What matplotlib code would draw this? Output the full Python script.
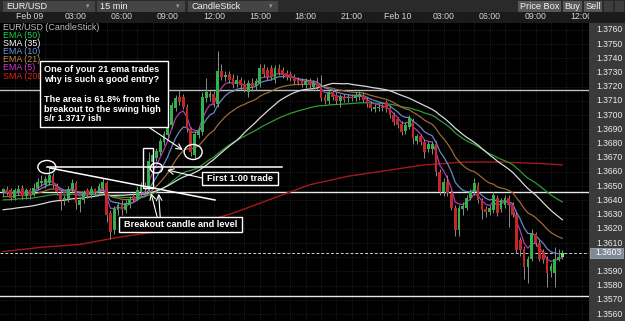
import matplotlib
matplotlib.use("Agg")
import matplotlib.pyplot as plt
import numpy as np
import pandas as pd
from matplotlib.patches import Rectangle, Ellipse
from matplotlib.transforms import blended_transform_factory

plt.rcParams['font.family'] = ['Liberation Sans', 'DejaVu Sans']

# ---------------- data ----------------
first_index = -7  # candle index of first candle (index 0 = Feb 09 00:00, 15-min candles)

opens = [1.3646,1.3648,1.3647,1.3642,1.3646,1.3649,1.3643,1.3647,1.3644,1.3649,
         1.3652,1.3651,1.3652,1.3657,1.3650,1.3645,1.3640,1.3641,1.3648,1.3652,
         1.3637,1.3640,1.3647,1.3644,1.3648,1.3646,1.3649,1.3652,1.3631,1.3619,
         1.3633,1.3637,1.3633,1.3637,1.3643,1.3641,1.3646,1.3650,1.3648,1.3667,
         1.3670,1.3674,1.3681,1.3686,1.3693,1.3705,1.3713,1.3713,1.3706,1.3690,
         1.3672,1.3686,1.3688,1.3712,1.3713,1.3715,1.3708,1.3731,1.3727,1.3729,
         1.3726,1.3722,1.3725,1.3722,1.3716,1.3723,1.3720,1.3722,1.3733,1.3732,
         1.3733,1.3725,1.3733,1.3732,1.3730,1.3729,1.3727,1.3725,1.3724,1.3721,
         1.3724,1.3720,1.3723,1.3720,1.3713,1.3710,1.3716,1.3714,1.3710,1.3713,
         1.3712,1.3713,1.3712,1.3713,1.3714,1.3711,1.3708,1.3704,1.3705,1.3706,
         1.3709,1.3705,1.3700,1.3697,1.3694,1.3689,1.3692,1.3695,1.3682,1.3685,
         1.3681,1.3676,1.3676,1.3680,1.3660,1.3646,1.3653,1.3645,1.3635,1.3619,
         1.3634,1.3635,1.3642,1.3646,1.3651,1.3640,1.3634,1.3632,1.3633,1.3642,
         1.3634,1.3637,1.3642,1.3637,1.3630,1.3612,1.3606,1.3593,1.3599,1.3616,
         1.3610,1.3604,1.3599,1.3590,1.3589,1.3598,1.3600]

highs = [1.3649,1.3650,1.3649,1.3649,1.3651,1.3651,1.3649,1.3649,1.3652,1.3656,
         1.3658,1.3657,1.3663,1.3659,1.3652,1.3647,1.3644,1.3650,1.3655,1.3654,
         1.3642,1.3647,1.3649,1.3650,1.3649,1.3652,1.3656,1.3654,1.3633,1.3636,
         1.3639,1.3640,1.3640,1.3643,1.3645,1.3650,1.3653,1.3653,1.3674,1.3675,
         1.3677,1.3684,1.3689,1.3697,1.3709,1.3714,1.3718,1.3715,1.3708,1.3692,
         1.3689,1.3692,1.3716,1.3726,1.3718,1.3717,1.3745,1.3736,1.3731,1.3731,
         1.3729,1.3728,1.3727,1.3725,1.3725,1.3726,1.3726,1.3736,1.3736,1.3734,
         1.3735,1.3735,1.3736,1.3734,1.3732,1.3731,1.3729,1.3727,1.3726,1.3726,
         1.3726,1.3725,1.3727,1.3728,1.3715,1.3718,1.3718,1.3716,1.3715,1.3715,
         1.3715,1.3715,1.3716,1.3717,1.3716,1.3713,1.3710,1.3708,1.3708,1.3708,
         1.3711,1.3707,1.3702,1.3699,1.3696,1.3695,1.3700,1.3698,1.3687,1.3687,
         1.3683,1.3682,1.3682,1.3682,1.3662,1.3656,1.3658,1.3647,1.3637,1.3637,
         1.3639,1.3644,1.3648,1.3656,1.3653,1.3642,1.3636,1.3637,1.3646,1.3644,
         1.3642,1.3644,1.3644,1.3639,1.3632,1.3614,1.3608,1.3601,1.3620,1.3618,
         1.3612,1.3606,1.3601,1.3596,1.3607,1.3606,1.3605]

lows = [1.3643,1.3644,1.3640,1.3640,1.3644,1.3641,1.3641,1.3641,1.3643,1.3647,
        1.3650,1.3649,1.3651,1.3649,1.3644,1.3633,1.3637,1.3639,1.3646,1.3634,
        1.3632,1.3638,1.3642,1.3642,1.3643,1.3644,1.3647,1.3625,1.3613,1.3616,
        1.3630,1.3630,1.3631,1.3635,1.3639,1.3640,1.3643,1.3646,1.3646,1.3663,
        1.3668,1.3672,1.3679,1.3684,1.3691,1.3703,1.3707,1.3704,1.3688,1.3671,
        1.3670,1.3684,1.3686,1.3709,1.3710,1.3706,1.3706,1.3725,1.3724,1.3723,
        1.3719,1.3720,1.3718,1.3716,1.3713,1.3717,1.3718,1.3720,1.3727,1.3725,
        1.3725,1.3723,1.3728,1.3726,1.3725,1.3724,1.3722,1.3721,1.3720,1.3719,
        1.3719,1.3718,1.3718,1.3710,1.3708,1.3708,1.3711,1.3708,1.3706,1.3709,
        1.3709,1.3710,1.3710,1.3711,1.3709,1.3706,1.3703,1.3702,1.3703,1.3703,
        1.3702,1.3698,1.3693,1.3691,1.3686,1.3687,1.3690,1.3680,1.3680,1.3679,
        1.3670,1.3674,1.3673,1.3657,1.3644,1.3643,1.3643,1.3633,1.3615,1.3615,
        1.3630,1.3633,1.3640,1.3644,1.3638,1.3627,1.3628,1.3630,1.3631,1.3629,
        1.3632,1.3635,1.3621,1.3628,1.3603,1.3601,1.3585,1.3582,1.3597,1.3608,
        1.3597,1.3596,1.3579,1.3586,1.3579,1.3597,1.3599]

closes = [1.3648,1.3645,1.3642,1.3647,1.3648,1.3643,1.3647,1.3644,1.3649,1.3653,
          1.3654,1.3655,1.3658,1.3651,1.3646,1.3640,1.3642,1.3648,1.3652,1.3638,
          1.3640,1.3645,1.3644,1.3648,1.3646,1.3650,1.3653,1.3630,1.3618,1.3634,
          1.3637,1.3633,1.3638,1.3641,1.3641,1.3647,1.3651,1.3648,1.3668,1.3672,
          1.3675,1.3682,1.3687,1.3695,1.3707,1.3712,1.3709,1.3706,1.3690,1.3674,
          1.3687,1.3689,1.3713,1.3716,1.3715,1.3708,1.3731,1.3727,1.3728,1.3725,
          1.3721,1.3725,1.3721,1.3718,1.3723,1.3720,1.3724,1.3733,1.3729,1.3727,
          1.3727,1.3733,1.3730,1.3728,1.3727,1.3726,1.3724,1.3723,1.3722,1.3724,
          1.3721,1.3723,1.3720,1.3712,1.3710,1.3716,1.3713,1.3710,1.3713,1.3711,
          1.3713,1.3712,1.3714,1.3715,1.3711,1.3708,1.3705,1.3706,1.3706,1.3705,
          1.3704,1.3700,1.3695,1.3693,1.3688,1.3693,1.3698,1.3684,1.3685,1.3681,
          1.3674,1.3680,1.3680,1.3660,1.3646,1.3653,1.3645,1.3635,1.3619,1.3635,
          1.3636,1.3642,1.3646,1.3652,1.3640,1.3633,1.3632,1.3635,1.3644,1.3631,
          1.3640,1.3642,1.3637,1.3630,1.3605,1.3605,1.3593,1.3599,1.3616,1.3610,
          1.3599,1.3598,1.3589,1.3594,1.3599,1.3600,1.3603]

# moving-average starting levels at the left edge
ema_seed = {5: 1.3646, 10: 1.3645, 21: 1.3642, 50: 1.3640}
sma35_seed = 1.3633
# SMA(200) at these candle indices
sma200_at = [-7, 3, 13, 23, 33, 43, 53, 63, 73, 83, 93, 103, 113, 123, 133, 139]
sma200_vals = [1.3604, 1.3607, 1.3609, 1.3614, 1.3618, 1.3623, 1.3631, 1.3641,
               1.3651, 1.3657, 1.3661, 1.3665, 1.3667, 1.3667, 1.3666, 1.3665]

time_labels = ["Feb 09", "03:00", "06:00", "09:00", "12:00", "15:00", "18:00",
               "21:00", "Feb 10", "03:00", "06:00", "09:00", "12:00"]
time_label_at = [0, 12, 24, 36, 48, 60, 72, 84, 96, 108, 120, 132, 144]
price_labels = [1.3760, 1.3750, 1.3740, 1.3730, 1.3720, 1.3710, 1.3700, 1.3690,
                1.3680, 1.3670, 1.3660, 1.3650, 1.3640, 1.3630, 1.3620, 1.3610,
                1.3600, 1.3590, 1.3580, 1.3570, 1.3560]
last_price = 1.3603
sr_levels = [1.3718, 1.3646, 1.3573]

legend_items = [("EUR/USD (CandleStick)", "#bdbdbd"), ("EMA (50)", "#1fd14a"),
                ("SMA (35)", "#ffffff"), ("EMA (10)", "#6d93d8"),
                ("EMA (21)", "#c98a3e"), ("EMA (5)", "#d23fd2"),
                ("SMA (200)", "#e0201c")]

# ---------------- figure ----------------
W, H = 625, 321
fig = plt.figure(figsize=(W / 100, H / 100), dpi=100, facecolor="#000000")
ax = fig.add_axes([0, 0, 589 / W, 299 / H])
ax.set_facecolor("#000000")
for s in ax.spines.values():
    s.set_visible(False)
ax.set_xticks([])
ax.set_yticks([])
ax.set_xlim(-7.83, 145.95)
ax.set_ylim(1.35551, 1.37656)

x = np.arange(first_index, first_index + len(opens))
o = np.array(opens); h = np.array(highs); l = np.array(lows); c = np.array(closes)

# grid
for p in price_labels:
    ax.axhline(p, color="#262626", lw=0.6, ls=(0, (1, 1.5)), zorder=0.5)
for gx in range(-4, 146, 4):
    ax.axvline(gx, color="#262626", lw=0.6, ls=(0, (1, 1.5)), zorder=0.5)

# support / resistance lines
ax.axhline(sr_levels[0], color="#bdbdbd", lw=1.0, zorder=1)
ax.axhline(sr_levels[1], color="#e8e8e8", lw=1.0, zorder=1)
ax.axhline(sr_levels[2], color="#e8e8e8", lw=1.0, zorder=1)
ax.axhline(last_price, color="#cfcfcf", lw=0.7, ls=(0, (3, 2)), zorder=1)

# moving averages
cs = pd.Series(c)
def ema(span):
    s = pd.Series([ema_seed[span]] + list(c))
    return s.ewm(span=span, adjust=False).mean().values[1:]
sums = cs.rolling(35, min_periods=1).sum()
cnt = cs.rolling(35, min_periods=1).count()
sma35 = ((sums + (35 - cnt) * sma35_seed) / 35).values

ax.plot(sma200_at, sma200_vals, color="#a3191a", lw=1.0, zorder=2)
ax.plot(x, ema(50), color="#2e9a35", lw=0.9, zorder=2)
ax.plot(x, sma35, color="#d8d8d8", lw=0.9, zorder=2)
ax.plot(x, ema(21), color="#9b6a36", lw=0.9, zorder=2)
ax.plot(x, ema(10), color="#6a88c4", lw=0.9, zorder=2)
ax.plot(x, ema(5), color="#b23ab2", lw=0.9, zorder=2)

# candles
up = c >= o
ax.vlines(x, l, h, color="#8c8c8c", lw=0.7, zorder=3)
body_lo = np.minimum(o, c)
body_h = np.maximum(np.abs(c - o), 0.00004)
cols = np.where(up, "#2fb34a", "#c0282a")
cols[-1] = "#4dff4d"
ax.bar(x, body_h, bottom=body_lo, width=0.72, color=cols, zorder=4, linewidth=0)

# ---------------- annotations (candle index, price) ----------------
wc = "white"
ax.add_patch(Ellipse((4.4, 1.36635), 4.7, 0.00092, fill=False, ec=wc, lw=1.0, zorder=8))
ax.add_patch(Ellipse((42.6, 1.36741), 4.7, 0.00106, fill=False, ec=wc, lw=1.0, zorder=8))
ax.add_patch(Ellipse((33.0, 1.36628), 3.2, 0.00070, fill=False, ec=wc, lw=1.0, zorder=8))
ax.plot([4.4, 65.8], [1.36635, 1.36635], color=wc, lw=1.1, zorder=8)
ax.plot([5.2, 48.3], [1.36628, 1.36403], color=wc, lw=1.1, zorder=8)
ax.add_patch(Rectangle((29.5, 1.36487), 2.6, 0.00282, fill=False, ec=wc, lw=1.0, zorder=8))

arrow = dict(arrowstyle="->", color=wc, lw=0.8, shrinkA=0, shrinkB=0)
ax.annotate("", xy=(39.9, 1.36755), xytext=(31.3, 1.36910), arrowprops=arrow, zorder=8)
ax.annotate("", xy=(35.8, 1.36614), xytext=(44.9, 1.36558), arrowprops=arrow, zorder=8)
ax.annotate("", xy=(31.6, 1.36452), xytext=(33.2, 1.36283), arrowprops=arrow, zorder=8)
ax.annotate("", xy=(33.6, 1.36447), xytext=(34.0, 1.36283), arrowprops=arrow, zorder=8)

ax.add_patch(Rectangle((2.6, 1.36917), 33.4, 0.00465, fc="black", ec=wc, lw=1.0, zorder=9))
ax.text(3.6, 1.37352, "One of your 21 ema trades\nwhy is such a good entry?\n\n"
        "The area is 61.8% from the\nbreakout to the swing high\ns/r 1.3717 ish",
        color=wc, fontsize=6.6, fontweight="bold", ha="left", va="top",
        linespacing=1.12, zorder=10)
ax.add_patch(Rectangle((44.9, 1.36508), 19.85, 0.00092, fc="black", ec=wc, lw=1.0, zorder=9))
ax.text(54.8, 1.36552, "First 1:00 trade", color=wc, fontsize=6.6, fontweight="bold",
        ha="center", va="center", zorder=10)
ax.add_patch(Rectangle((23.2, 1.36177), 32.1, 0.00106, fc="black", ec=wc, lw=1.0, zorder=9))
ax.text(39.3, 1.36228, "Breakout candle and level", color=wc, fontsize=6.6,
        fontweight="bold", ha="center", va="center", zorder=10)

# legend (top-left)
for k, (name, col) in enumerate(legend_items):
    ax.text(3 / W, 1 - (27 + 8.2 * k) / H, name, transform=fig.transFigure,
            color=col, fontsize=6.4, ha="left", va="center", zorder=7)

# ---------------- chrome ----------------
def fbox(x0, y0, x1, y1, color, z, ec="none"):
    ax.add_patch(Rectangle((x0 / W, 1 - y1 / H), (x1 - x0) / W, (y1 - y0) / H,
                           transform=fig.transFigure, fc=color, ec=ec, lw=0.6,
                           zorder=z, clip_on=False))

def ftext(xp, yp, s, z=21, **kw):
    ax.text(xp / W, 1 - yp / H, s, transform=fig.transFigure, zorder=z,
            clip_on=False, **kw)

# time row
fbox(0, 12, 625, 22.5, "#1b1b1b", 11)
xt = ax.get_xaxis_transform()
for lab, pos in zip(time_labels, time_label_at):
    ax.text(pos, 1 + 5.5 / 299, lab, transform=xt, color="#d6d6d6", fontsize=6.3,
            ha="center", va="center", clip_on=False, zorder=12)
fbox(589, 12, 625, 22.5, "#1b1b1b", 13)

# toolbar
fbox(0, 0, 625, 12, "#2a2a2a", 14)
for (x0, x1, lab) in [(3, 95, "EUR/USD"), (97, 185, "15 min"), (188, 278, "CandleStick")]:
    fbox(x0, 1, x1, 11.5, "#454545", 15)
    ftext(x0 + 3, 6.3, lab, color="#f2f2f2", fontsize=6.6, ha="left", va="center")
    ftext(x1 - 7, 6.3, "▾", color="#9a9a9a", fontsize=5, ha="center", va="center",
          family=["DejaVu Sans"])
for (x0, x1, lab) in [(518, 561, "Price Box"), (563, 582, "Buy"), (584, 602, "Sell")]:
    fbox(x0, 1, x1, 11.5, "#585858", 15)
    ftext((x0 + x1) / 2, 6.3, lab, color="#f2f2f2", fontsize=6.6, ha="center", va="center")
fbox(604, 1, 613, 11.5, "#3e3e3e", 15)
fbox(615, 1, 624, 11.5, "#3e3e3e", 15)

# price axis panel
fbox(589, 22.5, 625, 321, "#3a3a3a", 16)
yt = blended_transform_factory(fig.transFigure, ax.transData)
for p in price_labels:
    if abs(p - last_price) < 0.0005:
        continue  # hidden behind the last-price tag
    ax.text(596 / W, p, f"{p:.4f}", transform=yt, color="#ededed", fontsize=6.2,
            ha="left", va="center", clip_on=False, zorder=17)
ylast = last_price
ax.add_patch(Rectangle((590 / W, ylast - 0.00037), 33 / W, 0.00074, transform=yt,
                       fc="#7f8a96", ec="#a9b2bb", lw=0.5, zorder=18, clip_on=False))
ax.text(595 / W, ylast, f"{last_price:.4f}", transform=yt, color="white", fontsize=6.2,
        ha="left", va="center", clip_on=False, zorder=19)

fig.savefig("out.png", dpi=100, facecolor="#000000")
